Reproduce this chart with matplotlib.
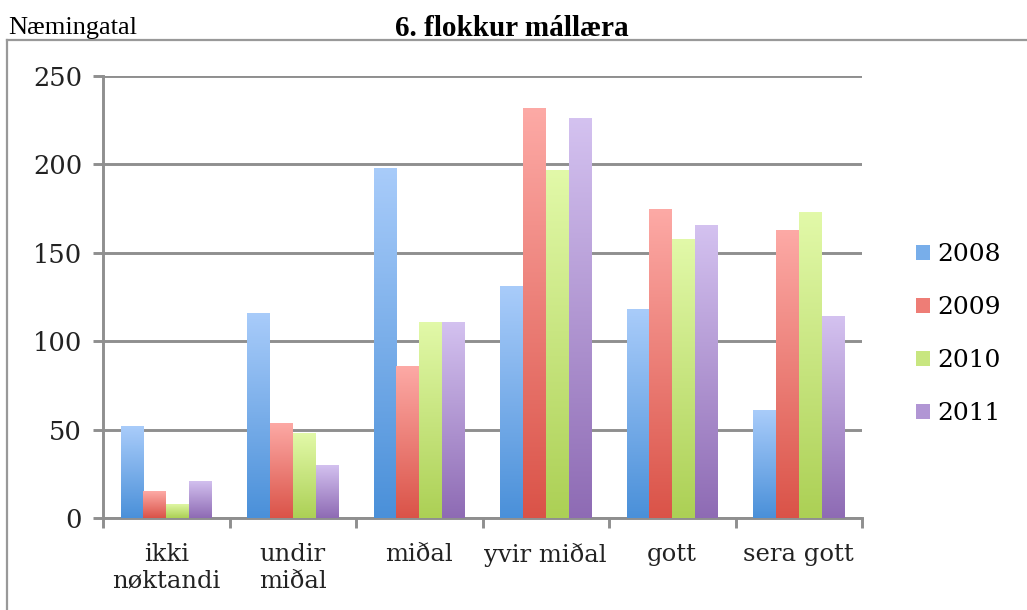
import numpy as np
import matplotlib
matplotlib.use("Agg")
import matplotlib.pyplot as plt
from matplotlib.colors import LinearSegmentedColormap
from matplotlib.patches import Patch
from matplotlib.lines import Line2D

categories = ["ikki\nnøktandi", "undir\nmiðal", "miðal", "yvir miðal", "gott", "sera gott"]
years = ["2008", "2009", "2010", "2011"]
y2008 = [52, 116, 198, 131, 118, 61]
y2009 = [15, 54, 86, 232, 175, 163]
y2010 = [8, 48, 111, 197, 158, 173]
y2011 = [21, 30, 111, 226, 166, 114]
series = [y2008, y2009, y2010, y2011]
yticks = [0, 50, 100, 150, 200, 250]

tops = ["#a9ccfa", "#fdaaa6", "#e2f9a9", "#d4c2f0"]
bottoms = ["#4a90d9", "#da5348", "#acd055", "#8e6bb4"]
mids = ["#78aeea", "#ee7d76", "#c8e680", "#b196d4"]

W, H = 1027, 610
fig = plt.figure(figsize=(W / 100, H / 100), dpi=100)
ax = fig.add_axes([103 / W, 1 - 518 / H, (862 - 103) / W, (518 - 76) / H])

gray = "#8f8f8f"
x = np.arange(len(categories))
width = 0.18
offsets = [-1.5 * width, -0.5 * width, 0.5 * width, 1.5 * width]
grad = np.linspace(1, 0, 256).reshape(-1, 1)

for k, vals in enumerate(series):
    cmap = LinearSegmentedColormap.from_list("g%d" % k, [bottoms[k], tops[k]])
    bars = ax.bar(x + offsets[k], vals, width, color="none", edgecolor="none", zorder=3)
    for rect in bars:
        x0 = rect.get_x()
        h = rect.get_height()
        im = ax.imshow(grad, cmap=cmap, aspect="auto", extent=[x0, x0 + width, 0, h],
                       origin="upper", zorder=3, interpolation="bilinear")
        im.set_clip_path(rect)

ax.set_xlim(-0.5, len(categories) - 0.5)
ax.set_ylim(0, 250)
ax.set_yticks(yticks)
ax.yaxis.grid(True, color=gray, linewidth=2.1, zorder=0)
ax.set_axisbelow(True)

for s in ["top", "right"]:
    ax.spines[s].set_visible(False)
for s in ["left", "bottom"]:
    ax.spines[s].set_color(gray)
    ax.spines[s].set_linewidth(2.1)

ax.set_xticks(x)
ax.set_xticklabels(categories, fontfamily="DejaVu Serif", fontsize=17.5, linespacing=1.2,
                   va="top", color="#222222")
ax.tick_params(axis="x", which="major", length=0, pad=18)
ax.set_xticks(np.arange(-0.5, len(categories), 1.0), minor=True)
ax.tick_params(axis="x", which="minor", length=7, width=2.1, color=gray, direction="out")
ax.tick_params(axis="y", length=7, width=2.1, color=gray, direction="out", pad=8,
               labelsize=18.5, labelcolor="#222222")
for lab in ax.get_yticklabels():
    lab.set_fontfamily("DejaVu Serif")

handles = [Patch(facecolor=mids[k], edgecolor="none") for k in range(4)]
fig.legend(handles, years, loc="center left", bbox_to_anchor=(916 / W, 1 - 334 / H),
           frameon=False, borderpad=0, borderaxespad=0, handlelength=0.55,
           handleheight=0.55, handletextpad=0.3, labelspacing=1.2,
           prop={"family": "DejaVu Serif", "size": 18})

fig.text(8 / W, 1 - 28 / H, "Næmingatal", fontfamily="Liberation Serif", fontsize=19,
         va="center", ha="left")
fig.text(512 / W, 1 - 28 / H, "6. flokkur mállæra", fontfamily="Liberation Serif",
         fontsize=21, fontweight="bold", va="center", ha="center")

fig.add_artist(Line2D([7 / W, 7 / W], [0, 1 - 40 / H], color="#999999", linewidth=1.6))
fig.add_artist(Line2D([7 / W, 1], [1 - 40 / H, 1 - 40 / H], color="#999999", linewidth=1.6))

fig.savefig("out.png", dpi=100)
